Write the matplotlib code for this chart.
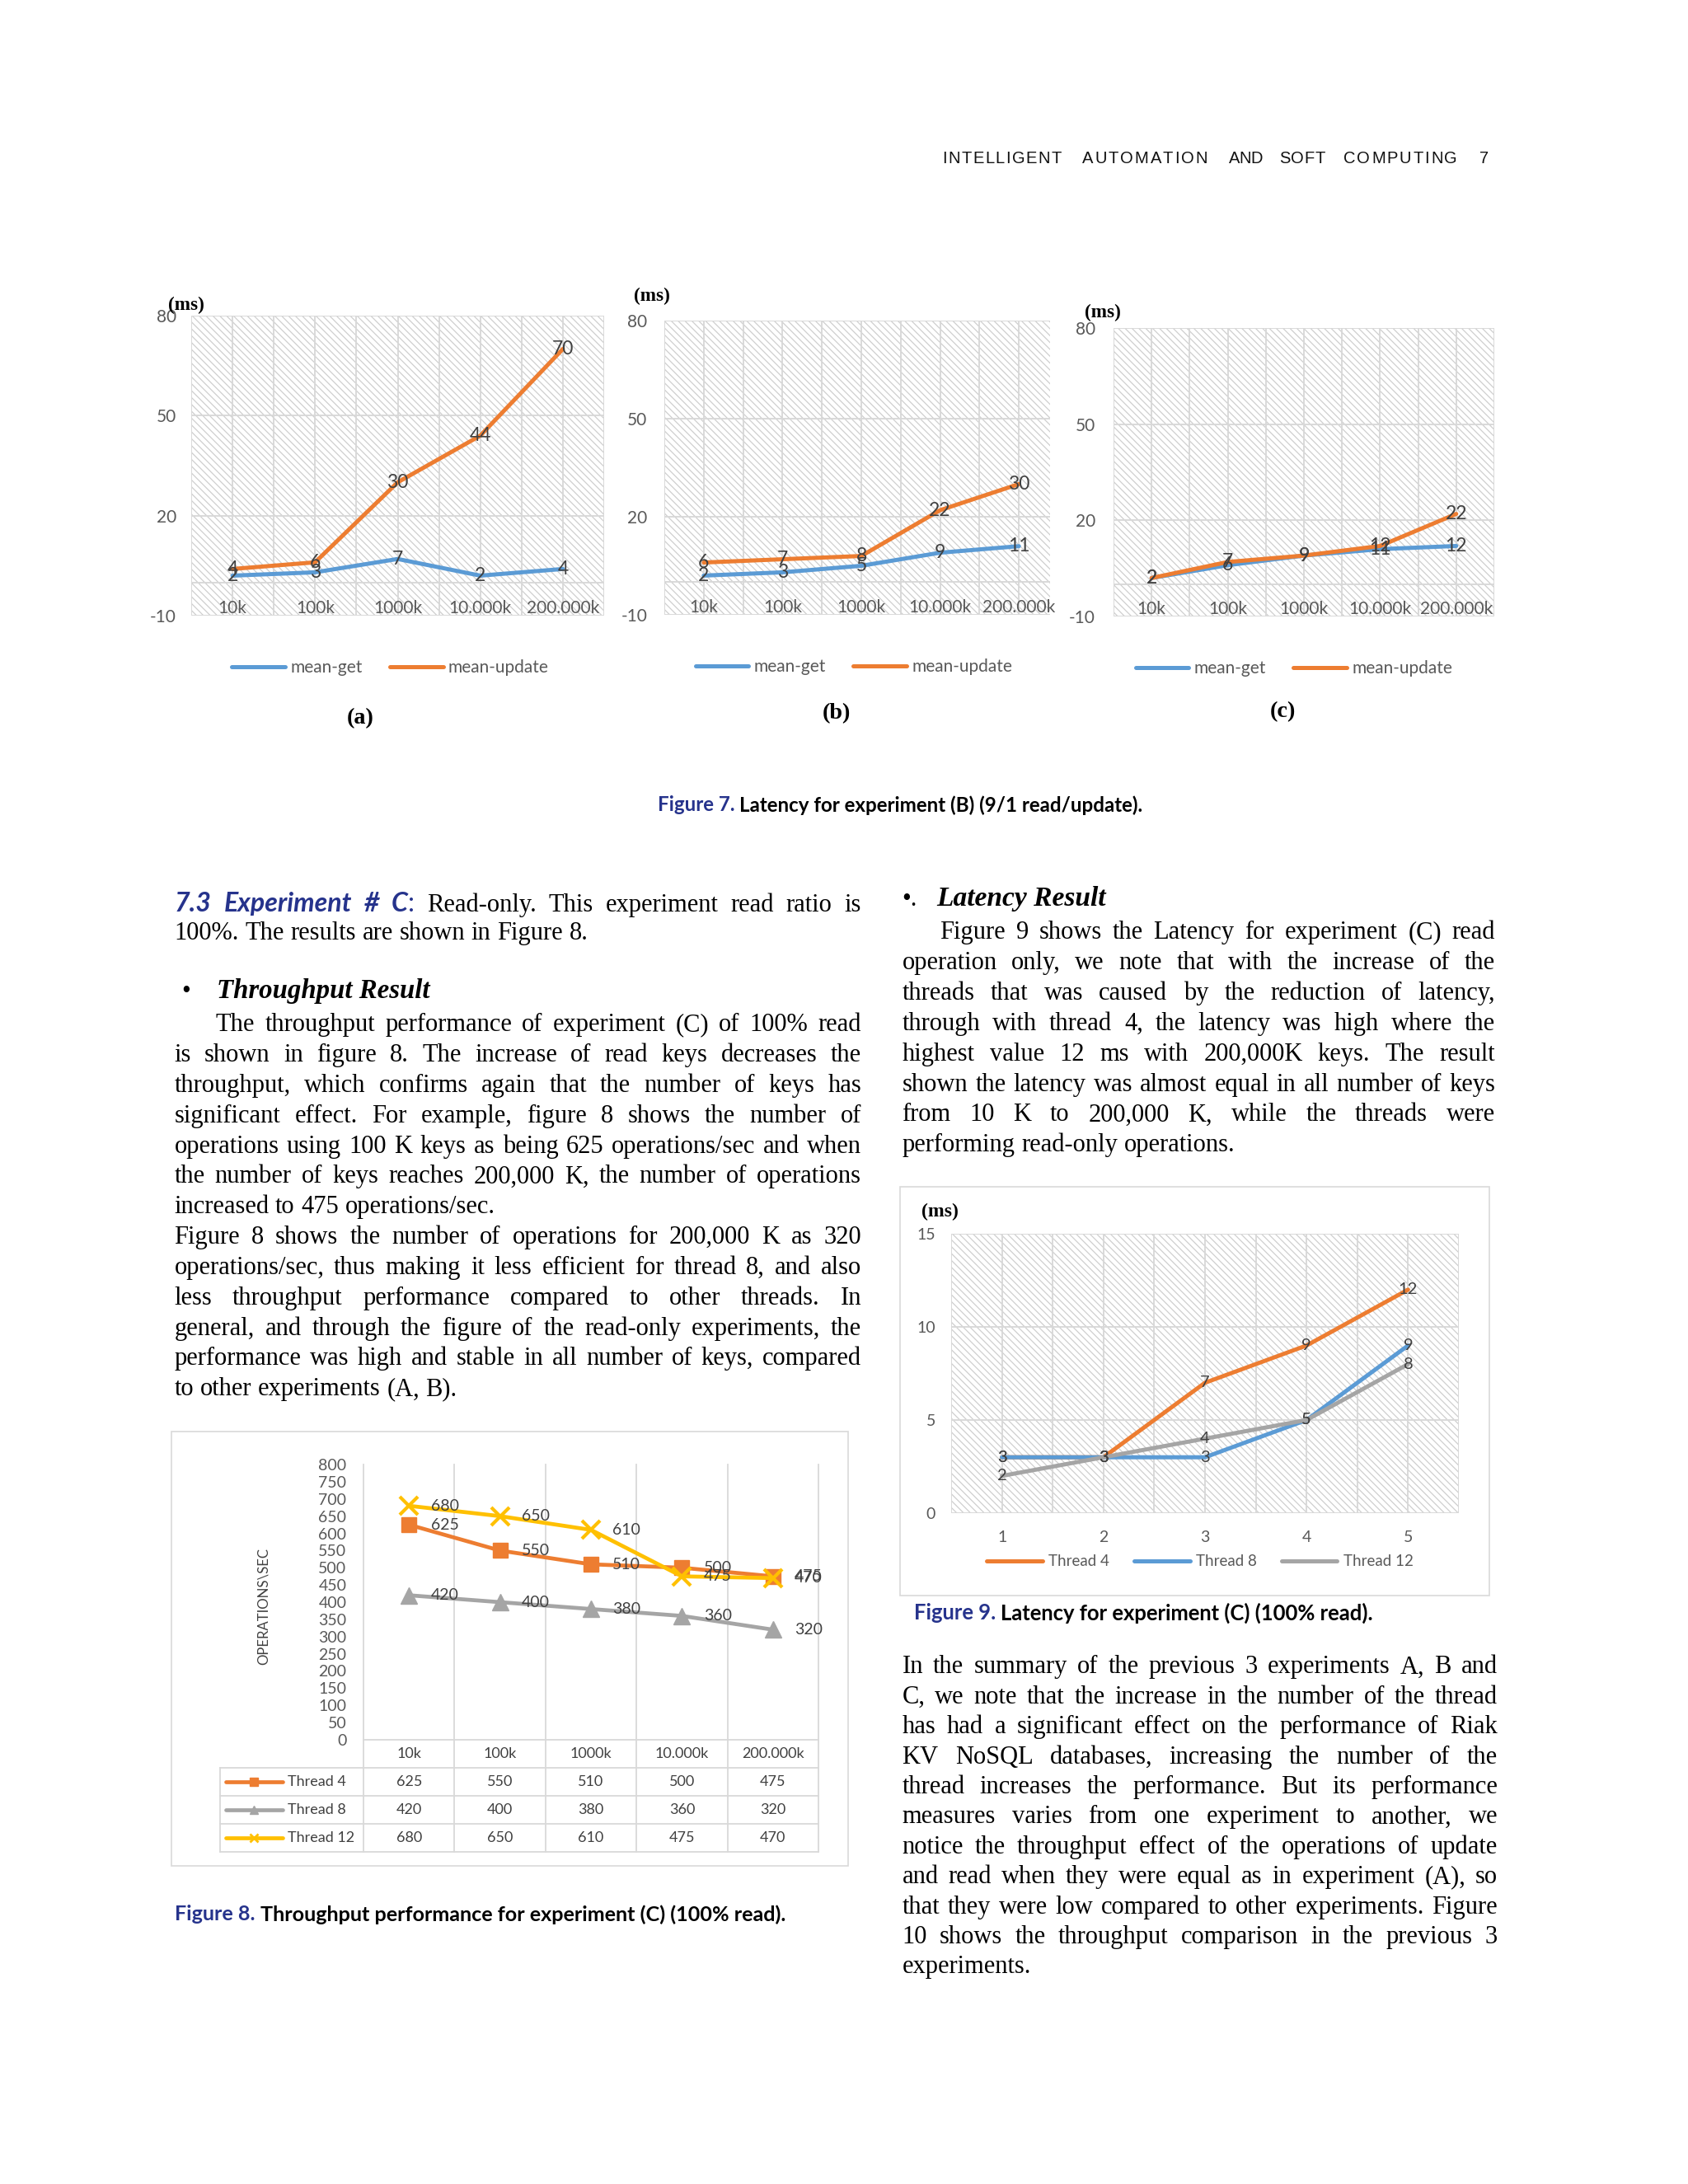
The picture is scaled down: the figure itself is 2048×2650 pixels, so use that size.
import matplotlib
matplotlib.use('Agg')
import matplotlib.pyplot as plt
from matplotlib import font_manager
from matplotlib.patches import Rectangle
import numpy as np

W, H = 2048, 2650

# ---- chart values -------------------------------------------------------
KEYS = ['10k', '100k', '1000k', '10.000k', '200.000k']
A_GET = [2, 3, 7, 2, 4]
A_UPDATE = [4, 6, 30, 44, 70]
B_GET = [2, 3, 5, 9, 11]
B_UPDATE = [6, 7, 8, 22, 30]
C_GET = [2, 6, 9, 11, 12]
C_UPDATE = [2, 7, 9, 12, 22]
LAT_TICKS = [-10, 20, 50, 80]

TP_THREAD4 = [625, 550, 510, 500, 475]
TP_THREAD8 = [420, 400, 380, 360, 320]
TP_THREAD12 = [680, 650, 610, 475, 470]
TP_TICKS = list(range(0, 801, 50))

F9_X = ['1', '2', '3', '4', '5']
F9_THREAD4 = [3, 3, 7, 9, 12]
F9_THREAD8 = [3, 3, 3, 5, 9]
F9_THREAD12 = [2, 3, 4, 5, 8]
F9_TICKS = [0, 5, 10, 15]

# ---- page text ----------------------------------------------------------
HEADER_WORDS = ['INTELLIGENT', 'AUTOMATION', 'AND', 'SOFT', 'COMPUTING', '7']
HEADER_SPANS = [(1143, 1288), (1313, 1465), (1491, 1532), (1552, 1608), (1630, 1768), (1795, 1809)]

LEFT_LINE1_HEAD = ['7.3', 'Experiment', '#', 'C']
LEFT_LINE1_REST = 'Read-only. This experiment read ratio is'
LEFT_LINE2 = '100%. The results are shown in Figure 8.'
LEFT_P2 = [
    'The throughput performance of experiment (C) of 100% read',
    'is shown in figure 8. The increase of read keys decreases the',
    'throughput, which confirms again that the number of keys has',
    'significant effect. For example, figure 8 shows the number of',
    'operations using 100 K keys as being 625 operations/sec and when',
    'the number of keys reaches 200,000 K, the number of operations',
    'increased to 475 operations/sec.',
]
LEFT_P3 = [
    'Figure 8 shows the number of operations for 200,000 K as 320',
    'operations/sec, thus making it less efficient for thread 8, and also',
    'less throughput performance compared to other threads. In',
    'general, and through the figure of the read-only experiments, the',
    'performance was high and stable in all number of keys, compared',
    'to other experiments (A, B).',
]
RIGHT_P1 = [
    'Figure 9 shows the Latency for experiment (C) read',
    'operation only, we note that with the increase of the',
    'threads that was caused by the reduction of latency,',
    'through with thread 4, the latency was high where the',
    'highest value 12 ms with 200,000K keys. The result',
    'shown the latency was almost equal in all number of keys',
    'from 10 K to 200,000 K, while the threads were',
    'performing read-only operations.',
]
RIGHT_P2 = [
    'In the summary of the previous 3 experiments A, B and',
    'C, we note that the increase in the number of the thread',
    'has had a significant effect on the performance of Riak',
    'KV NoSQL databases, increasing the number of the',
    'thread increases the performance. But its performance',
    'measures varies from one experiment to another, we',
    'notice the throughput effect of the operations of update',
    'and read when they were equal as in experiment (A), so',
    'that they were low compared to other experiments. Figure',
    '10 shows the throughput comparison in the previous 3',
    'experiments.',
]

# ---- style --------------------------------------------------------------
BLUE = '#5B9BD5'
ORANGE = '#ED7D31'
GRAY = '#A5A5A5'
YELLOW = '#FFC000'
NAVY = '#26338C'
GRID = '#D9D9D9'
HATCH = '#CFCFCF'
TICK = '#595959'
LABEL = '#404040'


def have_font(name):
    try:
        font_manager.findfont(font_manager.FontProperties(family=name), fallback_to_default=False)
        return True
    except ValueError:
        return False


SERIF = 'Liberation Serif'
SANS = 'Lato' if have_font('Lato') else 'DejaVu Sans'
NARROW = 'Liberation Sans Narrow' if have_font('Liberation Sans Narrow') else 'Liberation Sans'
BODY_SIZE = 22

plt.rcParams['hatch.linewidth'] = 0.9
plt.rcParams['axes.unicode_minus'] = False

fig = plt.figure(figsize=(W / 100, H / 100), dpi=100)
fig.patch.set_facecolor('white')
R = fig.canvas.get_renderer()


def add_axes_px(l, t, r, b):
    return fig.add_axes([l / W, 1 - b / H, (r - l) / W, (b - t) / H])


def ptext(x, y, s, **kw):
    return fig.text(x / W, 1 - y / H, s, **kw)


def measure(s, **kw):
    t = fig.text(0, 0, s, **kw)
    w = t.get_window_extent(renderer=R).width
    t.remove()
    return w


def fit_size(s, target, base=20, **kw):
    return base * target / measure(s, size=base, **kw)


def tracked(word, x0, x1, y, **kw):
    if len(word) == 1:
        ptext(x0, y, word, ha='left', va='center', **kw)
        return
    ws = [measure(c, **kw) for c in word]
    track = (x1 - x0 - sum(ws)) / (len(word) - 1)
    x = x0
    for c, w in zip(word, ws):
        ptext(x, y, c, ha='left', va='center', **kw)
        x += w + track


def body_line(x0, x1, y, groups, justify):
    # groups: list of word groups, each a list of (text, style) pieces
    if isinstance(groups, str):
        groups = [[(w, BODY)] for w in groups.split()]
    widths = [sum(measure(t, **st) for t, st in g) for g in groups]
    space = measure('x x', **BODY) - measure('xx', **BODY)
    n = len(groups)
    avail = x1 - x0
    natural = sum(widths) + (n - 1) * space
    f = min(1.0, avail / natural)
    widths = [w * f for w in widths]
    gap = (avail - sum(widths)) / (n - 1) if (justify and n > 1) else space * f
    x = x0
    for g in groups:
        for t, st in g:
            st2 = dict(st)
            st2['size'] = st['size'] * f
            size_px = st2['size'] * 100 / 72
            ptext(x, y + 0.24 * size_px, t, ha='left', va='baseline', **st2)
            x += measure(t, **st2)
        x += gap


def paragraph(lines, x0, x1, y0, pitch, indent=0):
    for k, line in enumerate(lines):
        body_line(x0 + (indent if k == 0 else 0), x1, y0 + k * pitch, line, k < len(lines) - 1)


def runs_line(x0, y, runs, target):
    base = 16
    space = measure('a a', size=base, **runs[0][1]) - measure('aa', size=base, **runs[0][1])
    total = sum(measure(t, size=base, **kw) for t, kw in runs) + space * (len(runs) - 1)
    size = base * target / total
    x = x0
    for t, kw in runs:
        ptext(x, y, t, ha='left', va='center', size=size, **kw)
        x += measure(t, size=size, **kw) + space * size / base


def hatch_bg(ax):
    ax.add_patch(Rectangle((0, 0), 1, 1, transform=ax.transAxes, facecolor='white',
                           edgecolor=HATCH, hatch='\\\\\\\\', lw=0, zorder=0))


def frame_box(l, t, r, b):
    fig.patches.append(Rectangle((l / W, 1 - b / H), (r - l) / W, (b - t) / H,
                                 transform=fig.transFigure, facecolor='none',
                                 edgecolor=GRID, lw=1.2))


BODY = dict(family=SERIF, size=BODY_SIZE, color='black')

# ---- header -------------------------------------------------------------
hsize = 18 if NARROW == 'Liberation Sans Narrow' else 14.5
for word, (x0, x1) in zip(HEADER_WORDS, HEADER_SPANS):
    tracked(word, x0, x1, 192, family=NARROW, size=hsize, color='#111111')


# ---- figure 7 -----------------------------------------------------------
def latency_chart(box, xmax, get, upd, ms_x, ms_y, tag, tag_xy, pad, leg_dx):
    l, t, r, b = box
    ax = add_axes_px(l, t, r, b)
    ax.set_xlim(-0.5, xmax)
    ax.set_ylim(-10, 80)
    hatch_bg(ax)
    for x in np.arange(-0.5, 5.0, 0.5):
        ax.axvline(x, color=GRID, lw=1.4, zorder=1)
    for y in LAT_TICKS + [0]:
        ax.axhline(y, color=GRID, lw=1.4, zorder=1)
    xs = np.arange(len(KEYS))
    ax.plot(xs, get, color=BLUE, lw=3.6, solid_capstyle='round', zorder=3, label='mean-get')
    ax.plot(xs, upd, color=ORANGE, lw=3.6, solid_capstyle='round', zorder=3, label='mean-update')
    for series in (get, upd):
        for x, v in zip(xs, series):
            ax.text(x, v, str(v), ha='center', va='center', family=SANS, size=16.5,
                    color=LABEL, zorder=5)
    for s in ax.spines.values():
        s.set_visible(False)
    ax.set_yticks(LAT_TICKS)
    ax.set_xticks(xs, KEYS)
    ax.tick_params(axis='y', length=0, pad=pad, labelsize=15, labelcolor=TICK)
    ax.tick_params(axis='x', length=0, pad=-6.2, labelsize=15, labelcolor=TICK)
    for lab in ax.get_xticklabels() + ax.get_yticklabels():
        lab.set_family(SANS)
    plt.setp(ax.get_xticklabels(), va='center')
    leg = ax.legend(loc='center', bbox_to_anchor=(0.5 - leg_dx / (r - l), -63 / (b - t)),
                    ncol=2, frameon=False, handlelength=3.1, handletextpad=0.3,
                    columnspacing=1.6, prop=dict(family=SANS, size=15))
    for txt in leg.get_texts():
        txt.set_color(TICK)
    for ln in leg.get_lines():
        ln.set_linewidth(3.6)
    ptext(ms_x, ms_y, '(ms)', ha='center', va='center', family=SERIF, weight='bold',
          size=fit_size('(ms)', 44, family=SERIF, weight='bold'))
    ptext(tag_xy[0], tag_xy[1], tag, ha='center', va='center', family=SERIF, weight='bold',
          size=fit_size('(a)', 33, family=SERIF, weight='bold'))
    return ax


latency_chart((232, 383, 733, 747), 4.5, A_GET, A_UPDATE, 226, 370, '(a)', (437, 872), 13, 9)
latency_chart((806, 389, 1274, 746), -0.5 + 468 / 95.6, B_GET, B_UPDATE, 791, 359, '(b)', (1015, 866), 15, 4)
latency_chart((1351, 398, 1813, 748), 4.5, C_GET, C_UPDATE, 1338, 379, '(c)', (1556, 864), 16, 12)

runs_line(798, 977, [('Figure 7.', dict(family=SANS, weight='bold', color=NAVY)),
                     ('Latency for experiment (B) (9/1 read/update).',
                      dict(family=SANS, weight='bold', color='black'))], 592)

# ---- left column text ---------------------------------------------------
SEC = dict(family=SANS, weight='bold', style='italic', color=NAVY,
           size=fit_size('7.3 Experiment', 207, family=SANS, weight='bold', style='italic'))
SECC = dict(family=SANS, color=NAVY, size=SEC['size'])
line1 = [[(w, SEC)] for w in LEFT_LINE1_HEAD]
line1[-1].append((':', SECC))
line1 += [[(w, BODY)] for w in LEFT_LINE1_REST.split()]
body_line(211.5, 1045, 1098.5, line1, True)
body_line(211.5, 1045, 1133, LEFT_LINE2, False)

HEAD = dict(family=SERIF, weight='bold', style='italic', color='black')
ptext(220, 1204 + 7, '\u2022', ha='left', va='baseline', family=SERIF, size=BODY_SIZE)
ptext(263, 1204 + 7, 'Throughput Result', ha='left', va='baseline',
      size=fit_size('Throughput Result', 258, **HEAD), **HEAD)
paragraph(LEFT_P2, 211.5, 1045, 1243.8, 36.85, indent=50.5)
paragraph(LEFT_P3, 211.5, 1045, 1243.8 + 7 * 36.85, 36.85)

# ---- right column text --------------------------------------------------
ptext(1094.5, 1091.7 + 7, '\u2022.', ha='left', va='baseline', family=SERIF, size=BODY_SIZE)
ptext(1136, 1091.7 + 7, 'Latency Result', ha='left', va='baseline',
      size=fit_size('Latency Result', 206, **HEAD), **HEAD)
paragraph(RIGHT_P1, 1094.5, 1814, 1131.7, 36.9, indent=46)
paragraph(RIGHT_P2, 1094.5, 1817, 2023, 36.4)

# ---- figure 8 -----------------------------------------------------------
frame_box(208, 1737, 1029, 2264)
ax8 = add_axes_px(441, 1777, 993, 2111)
ax8.set_xlim(-0.5, 4.5)
ax8.set_ylim(0, 800)
for s in ax8.spines.values():
    s.set_visible(False)
for x in np.arange(-0.5, 5.0, 1.0):
    ax8.axvline(x, color=GRID, lw=1.3, zorder=1, clip_on=False)
xs = np.arange(len(KEYS))
TP_SERIES = [('Thread 4', TP_THREAD4, ORANGE, 's', 13, 1),
             ('Thread 8', TP_THREAD8, GRAY, '^', 15, 1),
             ('Thread 12', TP_THREAD12, YELLOW, 'x', 16, 3)]
for name, vals, col, mk, ms, mew in TP_SERIES:
    ax8.plot(xs, vals, color=col, lw=3.4, marker=mk, ms=ms, mew=mew, mec=col, mfc=col,
             zorder=3, clip_on=False)
    for x, v in zip(xs, vals):
        ax8.annotate(str(v), (x, v), xytext=(19, 0), textcoords='offset points',
                     ha='left', va='center', family=SANS, size=14, color=LABEL, zorder=5)
ax8.set_xticks([])
ax8.set_yticks(TP_TICKS)
ax8.tick_params(axis='y', length=0, pad=14.8, labelsize=14, labelcolor=TICK)
for lab in ax8.get_yticklabels():
    lab.set_family(SANS)
ptext(320, 1949, 'OPERATIONS\\SEC', rotation=90, ha='center', va='center', color=LABEL,
      family=SANS, size=fit_size('OPERATIONS\\SEC', 142, family=SANS))

# data table under the plot
tab = add_axes_px(267, 2111, 993, 2247)
xmin = -0.5 - (441 - 267) / 110.4
tab.set_xlim(xmin, 4.5)
tab.set_ylim(4, 0)
tab.axis('off')
tab.plot([-0.5, 4.5], [0, 0], color=GRID, lw=1.3, clip_on=False)
for y in range(1, 5):
    tab.plot([xmin, 4.5], [y, y], color=GRID, lw=1.3, clip_on=False)
for x in np.arange(-0.5, 5.0, 1.0):
    tab.plot([x, x], [0, 4], color=GRID, lw=1.3, clip_on=False)
tab.plot([xmin, xmin], [1, 4], color=GRID, lw=1.3, clip_on=False)
for i, k in enumerate(KEYS):
    tab.text(i, 0.5, k, ha='center', va='center', family=SANS, size=13, color=LABEL)
for row, (name, vals, col, mk, ms, mew) in enumerate(TP_SERIES):
    yc = row + 1.5
    tab.plot([xmin + 7 / 110.4, xmin + 76 / 110.4], [yc, yc], color=col, lw=3.4,
             solid_capstyle='round')
    tab.plot([xmin + 41 / 110.4], [yc], marker=mk, ms=7, mew=max(1, mew - 1), color=col)
    tab.text(xmin + 82 / 110.4, yc, name, ha='left', va='center', family=SANS, size=13,
             color=LABEL)
    for i, v in enumerate(vals):
        tab.text(i, yc, str(v), ha='center', va='center', family=SANS, size=13, color=LABEL)

runs_line(212, 2323, [('Figure 8.', dict(family=SANS, weight='bold', color=NAVY)),
                      ('Throughput performance for experiment (C) (100% read).',
                       dict(family=SANS, weight='bold', color='black'))], 745)

# ---- figure 9 -----------------------------------------------------------
frame_box(1092, 1440, 1807, 1936)
ax9 = add_axes_px(1154, 1497, 1770, 1836)
ax9.set_xlim(-0.5, 4.5)
ax9.set_ylim(0, 15)
hatch_bg(ax9)
for x in np.arange(-0.5, 5.0, 0.5):
    ax9.axvline(x, color=GRID, lw=1.4, zorder=1)
for y in F9_TICKS:
    ax9.axhline(y, color=GRID, lw=1.4, zorder=1)
x9 = np.arange(len(F9_X))
for name, vals, col in [('Thread 4', F9_THREAD4, ORANGE), ('Thread 8', F9_THREAD8, BLUE),
                        ('Thread 12', F9_THREAD12, GRAY)]:
    ax9.plot(x9, vals, color=col, lw=3.6, solid_capstyle='round', zorder=3, label=name)
for vals in (F9_THREAD4, F9_THREAD8, F9_THREAD12):
    for x, v in zip(x9, vals):
        ax9.text(x, v, str(v), ha='center', va='center', family=SANS, size=14.5,
                 color=LABEL, zorder=5)
for s in ax9.spines.values():
    s.set_visible(False)
ax9.set_xticks(x9, F9_X)
ax9.set_yticks(F9_TICKS)
ax9.tick_params(axis='y', length=0, pad=13.7, labelsize=14, labelcolor=TICK)
ax9.tick_params(axis='x', length=0, pad=21.3, labelsize=14, labelcolor=TICK)
for lab in ax9.get_xticklabels() + ax9.get_yticklabels():
    lab.set_family(SANS)
plt.setp(ax9.get_xticklabels(), va='center')
leg9 = ax9.legend(loc='center', bbox_to_anchor=(0.5 - 6 / 616, -59 / 339), ncol=3,
                  frameon=False, handlelength=3.6, handletextpad=0.4, columnspacing=1.6,
                  prop=dict(family=SANS, size=13.5))
for txt in leg9.get_texts():
    txt.set_color(TICK)
for ln in leg9.get_lines():
    ln.set_linewidth(3.6)
ptext(1140, 1470, '(ms)', ha='center', va='center', family=SERIF, weight='bold',
      size=fit_size('(ms)', 45, family=SERIF, weight='bold'))
runs_line(1109, 1957, [('Figure 9.', dict(family=SANS, weight='bold', color=NAVY)),
                       ('Latency for experiment (C) (100% read).',
                        dict(family=SANS, weight='bold', color='black'))], 559)

fig.savefig('out.png', dpi=100, facecolor='white')
